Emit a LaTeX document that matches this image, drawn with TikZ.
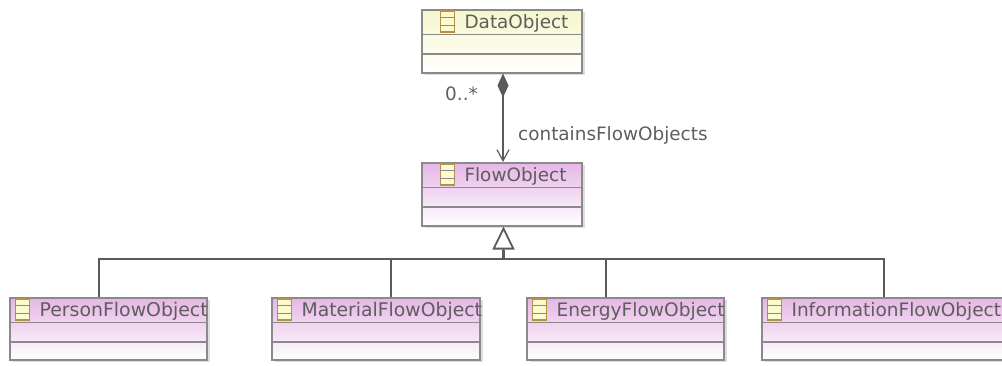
\documentclass[tikz,border=0pt]{standalone}
\usepackage{fontspec}
\setmainfont{DejaVu Sans}
\usetikzlibrary{arrows.meta,shadows}
\definecolor{linegray}{HTML}{8A8A8A}
\definecolor{textgray}{HTML}{5E5E5E}
\definecolor{conn}{HTML}{5A5A5A}
\definecolor{flowtop}{HTML}{E6B6E6}
\definecolor{datatop}{HTML}{F6F6CC}
\definecolor{iconline}{HTML}{B0924A}
\definecolor{iconfill}{HTML}{FBFBCF}
\newcommand{\tsize}{18.4}
\tikzset{
  x=1pt,y=1pt,
  umlclass/.style={draw=linegray,line width=1.5pt,inner sep=0pt,rectangle,
    drop shadow={shadow xshift=2.5pt,shadow yshift=-2.5pt,fill=black,opacity=.13}},
  flowclass/.style={umlclass,top color=flowtop,bottom color=white},
  dataclass/.style={umlclass,top color=datatop,bottom color=white},
  divider/.style={draw=linegray,line width=1.2pt},
  umltitle/.style={anchor=west,inner sep=0pt,text=textgray,font=\fontsize{\tsize pt}{20pt}\selectfont},
  umlicon/.style={draw=iconline,fill=iconfill,line width=1.1pt,minimum width=14pt,minimum height=21pt,inner sep=0pt},
  iconrow/.style={draw=linegray,line width=1pt},
  connector/.style={draw=conn,line width=1.2pt},
  lbl/.style={inner sep=0pt,text=textgray,font=\fontsize{18.4pt}{20pt}\selectfont},
}
% name, style, centre x, top y, width, height, icon offset, text
\newcommand{\umlbox}[8]{%
  \node[#2,minimum width=#5pt,minimum height=#6pt,anchor=north] (#1) at (#3,#4) {};
  \draw[divider] ([yshift=-25.5pt]#1.north west) -- ([yshift=-25.5pt]#1.north east);
  \draw[divider] ([yshift=-45pt]#1.north west) -- ([yshift=-45pt]#1.north east);
  \node[umlicon,anchor=west] (#1-icon) at ([xshift=#7pt,yshift=-12.5pt]#1.north west) {};
  \draw[iconrow] ([yshift=-7pt]#1-icon.north west) -- ([yshift=-7pt]#1-icon.north east);
  \draw[iconrow] ([yshift=7pt]#1-icon.south west) -- ([yshift=7pt]#1-icon.south east);
  \node[umltitle] (#1-title) at ([xshift=9pt,yshift=-1.5pt]#1-icon.east) {#8};
}
\begin{document}
\begin{tikzpicture}
\useasboundingbox (0,0) rectangle (1002,-365);
\clip (0,0) rectangle (1002,-365);
\umlbox{data}{dataclass}{502}{-9}{160}{63}{19}{DataObject}
\umlbox{flow}{flowclass}{502}{-162}{160}{63}{19}{FlowObject}
\renewcommand{\tsize}{18.9}
\umlbox{person}{flowclass}{108.5}{-297}{197}{62}{6}{PersonFlowObject}
\renewcommand{\tsize}{18.8}
\umlbox{material}{flowclass}{376}{-297}{208}{62}{6}{MaterialFlowObject}
\renewcommand{\tsize}{18.6}
\umlbox{energy}{flowclass}{625.5}{-297}{197}{62}{6}{EnergyFlowObject}
\renewcommand{\tsize}{18.5}
\umlbox{info}{flowclass}{883}{-297}{242}{62}{6}{InformationFlowObject}
% composition
\draw[connector,{Diamond[length=24pt,width=11pt,fill=conn]}-{Straight Barb[length=11pt,width=12pt,line width=1.2pt]}]
  ([xshift=1pt]data.south) -- ([xshift=1pt]flow.north);
\node[lbl,anchor=west] (role) at (518,-135) {containsFlowObjects};
\node[lbl,anchor=west] (mult) at (445,-94) {0..*};
% generalisation
\coordinate (bus) at (503.5,-259);
\draw[connector,line width=2.2pt] (bus) -- (503.5,-250) coordinate (stem);
\draw[connector,-{Triangle[open,length=23pt,width=22pt,line width=1.8pt]}] (stem) -- ([xshift=1.5pt]flow.south);
\draw[connector] ([xshift=-9.5pt]person.north) |- (bus);
\draw[connector] ([xshift=15pt]material.north) |- (bus);
\draw[connector] ([xshift=-19.5pt]energy.north) |- (bus);
\draw[connector] ([xshift=1pt]info.north) |- (bus);
\end{tikzpicture}
\end{document}
